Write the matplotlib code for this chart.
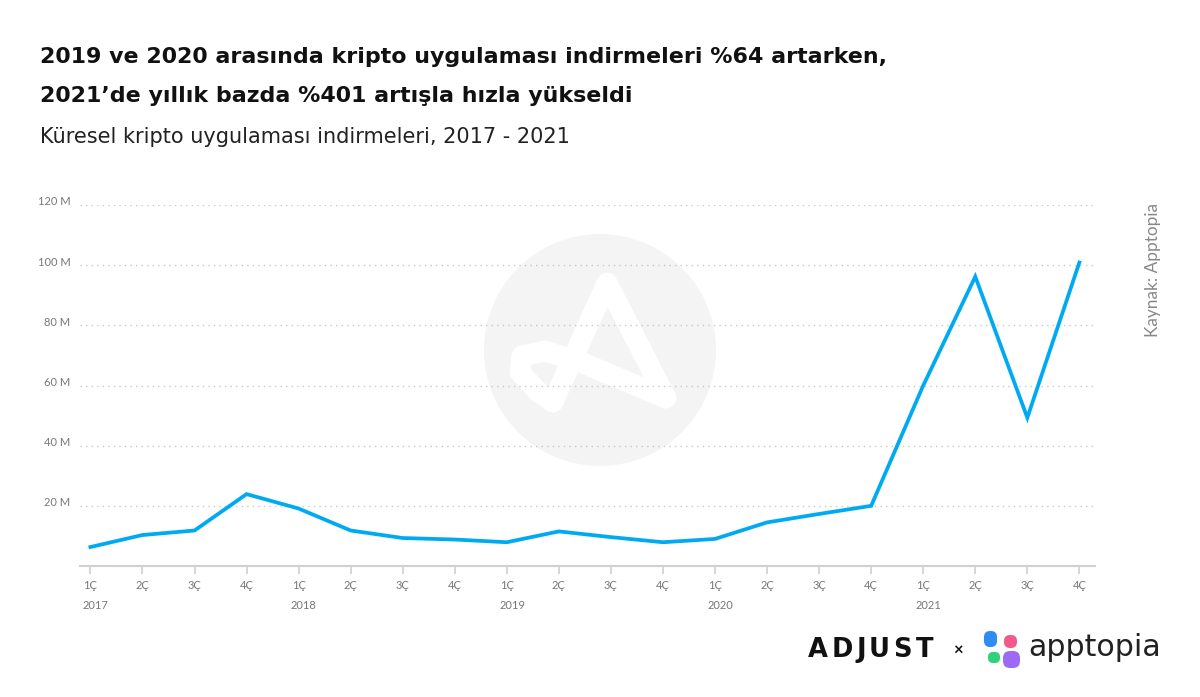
import matplotlib
matplotlib.use("Agg")
import matplotlib.pyplot as plt
from matplotlib.patches import Circle, FancyBboxPatch
import matplotlib.transforms as mtransforms
import numpy as np

# ---- data ----
quarters = ["1Ç", "2Ç", "3Ç", "4Ç"] * 5
years = ["2017", "2018", "2019", "2020", "2021"]
downloads_m = [6.3, 10.3, 11.8, 23.9, 19.1, 11.8, 9.3, 8.8, 7.9, 11.5,
               9.6, 7.9, 9.0, 14.5, 17.3, 20.0, 60.0, 96.2, 49.3, 100.9]
y_ticks = [20, 40, 60, 80, 100, 120]
y_tick_labels = ["20 M", "40 M", "60 M", "80 M", "100 M", "120 M"]

title_lines = ["2019 ve 2020 arasında kripto uygulaması indirmeleri %64 artarken,",
               "2021’de yıllık bazda %401 artışla hızla yükseldi"]
subtitle = "Küresel kripto uygulaması indirmeleri, 2017 - 2021"
source = "Kaynak: Apptopia"

plt.rcParams["font.family"] = ["Lato", "DejaVu Sans"]

W, H = 1200, 697
fig = plt.figure(figsize=(W / 100, H / 100), dpi=100)
fig.patch.set_facecolor("white")
renderer = fig.canvas.get_renderer()

CANDIDATES = ["Open Sans", "Noto Sans", "Inter", "Roboto", "Lato", "DejaVu Sans"]


def measure(family, weight, size, s):
    t = fig.text(0, 0, s, family=family, fontweight=weight, fontsize=size)
    bb = t.get_window_extent(renderer)
    t.remove()
    return bb.width, bb.height


def pick_font(s, weight, target_w, target_cap):
    best = None
    for fam in CANDIDATES:
        w, _ = measure(fam, weight, 20, s)
        size = 20 * target_w / w
        _, ch = measure(fam, weight, size, "H")
        score = abs(ch * 0.72 - target_cap)
        if best is None or score < best[0]:
            best = (score, fam, size)
    return best[1], best[2]


# background overlay in pixel coordinates (watermark + logos)
bg = fig.add_axes([0, 0, 1, 1], zorder=0)
bg.set_xlim(0, W)
bg.set_ylim(H, 0)
bg.axis("off")
bg.add_patch(Circle((600, 350), 116, color="#f4f4f4", lw=0))
path_x = [666, 607, 553, 538, 520, 522, 545, 585, 666]
path_y = [398, 283, 402, 392, 372, 356, 351, 364, 398]
bg.plot(path_x[:3], path_y[:3], color="white", lw=15, solid_capstyle="round", solid_joinstyle="round")
bg.plot(path_x[2:], path_y[2:], color="white", lw=15, solid_capstyle="round", solid_joinstyle="round")

# main axes
ax = fig.add_axes([80 / W, 1 - 566 / H, (1095 - 80) / W, (566 - 205) / H], zorder=1)
ax.set_facecolor("none")
x = np.arange(len(downloads_m))
ax.plot(x, downloads_m, color="#00aaf2", lw=2.7, solid_joinstyle="miter", zorder=3)
ax.set_xlim(-0.2, 19.3)
ax.set_ylim(0, 120)
ax.set_yticks(y_ticks)
ax.set_yticklabels(y_tick_labels)
ax.yaxis.grid(True, linestyle=(0, (1, 3)), color="#c8c8c8", lw=1)
ax.tick_params(axis="y", length=0, pad=7, labelsize=8, labelcolor="#777777")
up = mtransforms.ScaledTranslation(0, 3 / 72, fig.dpi_scale_trans)
for lbl in ax.get_yticklabels():
    lbl.set_transform(lbl.get_transform() + up)
ax.set_xticks(x)
ax.set_xticklabels(quarters)
ax.tick_params(axis="x", length=6, width=1.2, color="#d0d0d0", pad=4, labelsize=8, labelcolor="#777777")
for s in ["top", "right", "left"]:
    ax.spines[s].set_visible(False)
ax.spines["bottom"].set_color("#d0d0d0")
ax.spines["bottom"].set_linewidth(1.5)
ax.set_axisbelow(True)

# year labels
for i, yr in enumerate(years):
    ax.text(i * 4 + 0.1, -13, yr, transform=ax.transData, ha="center", va="center",
            fontsize=8, color="#777777", clip_on=False)

# titles (sized to the reference text widths)
tfam, tsize = pick_font(title_lines[0], "bold", 845, 15)
fig.text(40 / W, 1 - 63 / H, title_lines[0], family=[tfam, "DejaVu Sans"], fontsize=tsize,
         fontweight="bold", color="#111111", va="baseline")
fig.text(40 / W, 1 - 102 / H, title_lines[1], family=[tfam, "DejaVu Sans"], fontsize=tsize,
         fontweight="bold", color="#111111", va="baseline")
sw, _ = measure(tfam, "normal", 20, subtitle)
fig.text(40 / W, 1 - 143 / H, subtitle, family=[tfam, "DejaVu Sans"], fontsize=20 * 531 / sw,
         color="#222222", va="baseline")
kw, _ = measure("Lato", "normal", 20, source)
fig.text(1153 / W, 1 - 270 / H, source, rotation=90, fontsize=20 * 134 / kw, color="#888888",
         ha="center", va="center")

# logos: ADJUST with wide letter spacing
word = "ADJUST"
lsize = 18.5
widths = [measure(tfam, "bold", lsize, ch)[0] for ch in word]
gap = (125 - sum(widths)) / (len(word) - 1)
cx = 808
for ch, w in zip(word, widths):
    bg.text(cx, 657, ch, family=[tfam, "DejaVu Sans"], fontsize=lsize, fontweight="bold",
            color="#111111", va="baseline", ha="left")
    cx += w + gap
bg.text(958, 651, "×", fontsize=12, fontweight="bold", color="#111111", va="center", ha="center")
bg.add_patch(FancyBboxPatch((984, 631), 13, 16, boxstyle="round,pad=0,rounding_size=6", color="#2f8cf4", lw=0))
bg.add_patch(FancyBboxPatch((1004, 635), 13, 13, boxstyle="round,pad=0,rounding_size=6", color="#f25a8a", lw=0))
bg.add_patch(FancyBboxPatch((988, 652), 12, 11, boxstyle="round,pad=0,rounding_size=5", color="#2fd27a", lw=0))
bg.add_patch(FancyBboxPatch((1003, 651), 17, 17, boxstyle="round,pad=0,rounding_size=7", color="#9b6bf5", lw=0))
pw, _ = measure(tfam, "normal", 20, "apptopia")
bg.text(1028, 648, "apptopia", family=[tfam, "DejaVu Sans"], fontsize=20 * 132 / pw, color="#222222",
        va="center", ha="left")

fig.savefig("out.png", dpi=100, facecolor="white")
